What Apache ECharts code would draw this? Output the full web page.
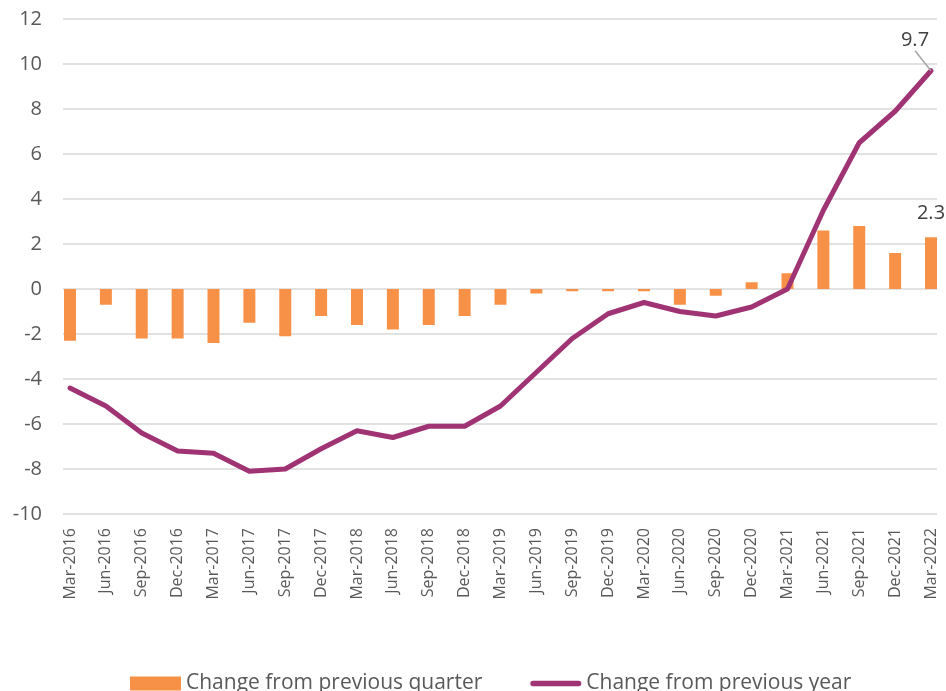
<!DOCTYPE html>
<html>
<head>
<meta charset="utf-8">
<script src="https://cdn.jsdelivr.net/npm/echarts@6/dist/echarts.min.js"></script>
<style>
  html, body { margin: 0; padding: 0; background: #fff; }
  #chart { width: 946px; height: 691px; }
</style>
</head>
<body>
<div id="chart"></div>
<script>
// quarters on the x axis
var quarters = ['Mar-2016','Jun-2016','Sep-2016','Dec-2016','Mar-2017','Jun-2017','Sep-2017','Dec-2017',
  'Mar-2018','Jun-2018','Sep-2018','Dec-2018','Mar-2019','Jun-2019','Sep-2019','Dec-2019',
  'Mar-2020','Jun-2020','Sep-2020','Dec-2020','Mar-2021','Jun-2021','Sep-2021','Dec-2021','Mar-2022'];
// bars
var quarterChange = [-2.3,-0.7,-2.2,-2.2,-2.4,-1.5,-2.1,-1.2,-1.6,-1.8,-1.6,-1.2,-0.7,-0.2,-0.1,-0.1,
  -0.1,-0.7,-0.3,0.3,0.7,2.6,2.8,1.6,2.3];
// line
var yearChange = [-4.4,-5.2,-6.4,-7.2,-7.3,-8.1,-8.0,-7.1,-6.3,-6.6,-6.1,-6.1,-5.2,-3.7,-2.2,-1.1,
  -0.6,-1.0,-1.2,-0.8,0.0,3.5,6.5,7.9,9.7];
var yMin = -10, yMax = 12, yStep = 2;

var chart = echarts.init(document.getElementById('chart'));
var last = quarters.length - 1;

// only the last value of each series gets a label
var barData = quarterChange.map(function(v, i){
  if(i != last) return v;
  return { value: v, label: { show: true, position: 'top', distance: 14, fontSize: 20,
    color: '#404040', fontFamily: 'Open Sans', formatter: '{c}' } };
});
var lineData = yearChange.map(function(v, i){
  if(i != last) return v;
  return { value: v, label: { show: true, position: 'top', fontSize: 20,
    color: '#404040', fontFamily: 'Open Sans', formatter: '{c}' } };
});

var option = {
  animation: false,
  textStyle: { fontFamily: 'Open Sans' },
  grid: [
    { left: 63, right: 9, top: 19, bottom: 177 },   // gridlines + y labels
    { left: 70, right: 15, top: 19, bottom: 177 }    // data
  ],
  xAxis: [
    { gridIndex: 0, type: 'value', show: false, min: 0, max: 1 },
    { gridIndex: 1, type: 'category', data: quarters, boundaryGap: false,
      axisLine: { show: false, onZero: false }, axisTick: { show: false },
      axisLabel: { rotate: 90, margin: 14, fontSize: 16, color: '#595959', interval: 0 } }
  ],
  yAxis: [
    { gridIndex: 0, type: 'value', min: yMin, max: yMax, interval: yStep,
      axisLine: { show: false }, axisTick: { show: false },
      axisLabel: { margin: 21, fontSize: 20, color: '#595959' },
      splitLine: { lineStyle: { color: '#d9d9d9', width: 1.5 } } },
    { gridIndex: 1, type: 'value', min: yMin, max: yMax, interval: yStep, show: false,
      splitLine: { show: false } }
  ],
  legend: {
    top: 668, left: 125, itemWidth: 51, itemHeight: 14, itemGap: 48,
    textStyle: { fontSize: 21, color: '#595959' },
    data: [
      { name: 'Change from previous quarter', icon: 'rect' },
      { name: 'Change from previous year', icon: 'path://M3,0 L54,0 A3,3 0 0 1 54,6 L3,6 A3,3 0 0 1 3,0 Z' }
    ]
  },
  series: [
    { name: 'Change from previous quarter', type: 'bar', xAxisIndex: 1, yAxisIndex: 1,
      data: barData, barWidth: 12, itemStyle: { color: '#f79148' } },
    { name: 'Change from previous year', type: 'line', xAxisIndex: 1, yAxisIndex: 1,
      data: lineData, symbol: 'circle', symbolSize: 0.1, showSymbol: true,
      lineStyle: { color: '#a03373', width: 5, cap: 'round', join: 'round' },
      itemStyle: { color: '#a03373' },
      labelLine: { show: true, lineStyle: { color: '#a6a6a6', width: 1.5 } },
      labelLayout: function(params){
        if(params.dataIndex === last) return { dx: -16, dy: -15 };
        return {};
      } }
  ]
};
chart.setOption(option);
</script>
</body>
</html>
